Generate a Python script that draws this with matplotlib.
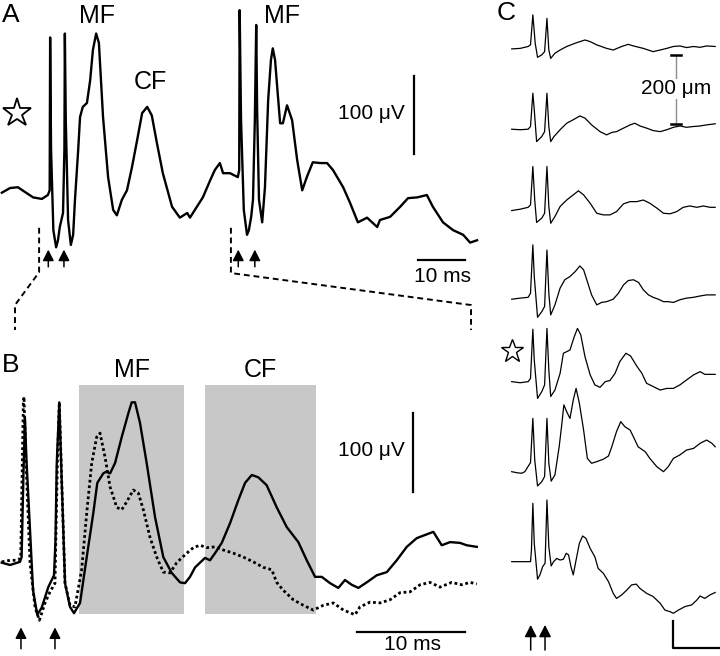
import matplotlib.pyplot as plt
from matplotlib.patches import Rectangle

plt.rcParams['font.family'] = ['Liberation Sans', 'DejaVu Sans']

# ---------------- panel A : one sweep, two stimulus pairs (ms, uV) ----------------
a_t = [0.4, 2.2, 3.9, 5.4, 7.2, 9.1, 10.4, 10.8, 10.9, 11.1,
       11.6, 12.2, 12.6, 13.0, 13.7, 14.0, 14.1, 14.3, 14.8, 15.4,
       15.9, 16.3, 17.0, 17.4, 18.0, 18.9, 19.6, 20.2, 20.9, 21.5,
       22.4, 23.5, 24.6, 25.4, 26.5, 27.6, 28.7, 29.8, 30.9, 32.0,
       33.0, 34.1, 35.4, 37.4, 39.1, 40.7, 41.3, 42.8, 44.1, 45.7,
       46.7, 47.8, 48.5, 50.0, 51.7, 52.0, 52.1, 52.4, 53.0, 53.7,
       54.1, 54.6, 55.0, 55.4, 55.7, 55.9, 56.3, 57.0, 57.6, 58.3,
       58.9, 59.3, 59.8, 60.2, 60.9, 61.5, 62.4, 63.5, 64.6, 65.7,
       66.7, 68.0, 69.6, 71.1, 72.4, 74.6, 76.1, 77.8, 79.8, 82.0,
       82.6, 84.8, 87.0, 88.7, 90.7, 92.8, 94.1, 96.3, 98.5, 100.7,
       102.2, 103.7]
a_v = [3, 9, 10, 4, -3, -5, 0, 6, 202, 58,
       -45, -67, -58, -41, -23, 58, 207, 96, -32, -64,
       -51, -6, 58, 100, 113, 118, 147, 186, 207, 195,
       100, 23, -19, -26, -6, 6, 36, 70, 105, 113,
       102, 67, 28, -15, -29, -23, -29, -15, -3, 19,
       32, 41, 28, 28, 23, 32, 237, 96, -19, -51,
       -45, -28, -6, 96, 218, 109, -6, -35, 10, 122,
       173, 188, 173, 143, 92, 92, 115, 96, 45, 6,
       23, 42, 41, 41, 32, 10, -10, -35, -29, -41,
       -32, -28, -15, -4, -3, 0, -15, -35, -45, -51,
       -61, -58]
a_stim = [10.5, 13.9, 51.8, 55.4]
a_zoom = [8.5, 50.2]          # stretch of A shown enlarged in B

# ---------------- panel B : control (solid) vs dotted ----------------
b_t = [0.16, 0.93, 1.85, 2.0, 2.18, 2.31, 2.45, 2.78, 3.06, 3.45,
       3.86, 4.47, 5.0, 5.14, 5.25, 5.49, 5.71, 6.02, 6.48, 6.85,
       7.41, 8.03, 8.64, 9.01, 9.56, 9.81, 10.19, 10.65, 11.27, 11.88,
       12.19, 12.5, 12.96, 13.58, 14.35, 15.12, 15.9, 16.67, 17.13, 17.59,
       18.06, 18.52, 18.98, 19.44, 19.91, 20.53, 21.3, 22.06, 22.69, 23.31,
       23.92, 24.69, 25.62, 26.55, 27.62, 28.4, 29.17, 29.79, 30.56, 31.32,
       31.94, 32.56, 33.18, 33.95, 34.88, 35.81, 36.73, 37.66, 38.58, 39.35,
       40.12, 40.9, 41.67, 42.59, 43.21, 44.14]
b_v = [3, 0, 4, 10, 120, 186, 133, 44, -32, -63,
       -54, -28, -13, 32, 127, 206, 108, -23, -53, -61,
       -48, 10, 66, 104, 116, 118, 116, 129, 162, 192,
       206, 206, 180, 129, 61, 10, -10, -22, -23, -15,
       -3, 3, 9, 6, 15, 28, 53, 82, 104, 114,
       111, 101, 73, 48, 29, 6, -15, -15, -23, -29,
       -19, -25, -29, -22, -13, -9, 6, 23, 34, 38,
       42, 25, 29, 28, 25, 23]
d_t = [0.16, 0.93, 1.69, 1.92, 2.16, 2.22, 2.41, 2.78, 3.24, 3.64,
       4.17, 4.63, 5.09, 5.31, 5.49, 5.71, 6.02, 6.48, 6.94, 7.56,
       8.03, 8.49, 8.95, 9.26, 9.72, 10.19, 10.81, 11.27, 11.73, 12.34,
       12.81, 13.27, 13.89, 14.51, 15.12, 15.74, 16.36, 17.29, 17.9, 18.52,
       19.14, 19.91, 20.68, 21.6, 22.53, 23.45, 24.38, 25.16, 25.62, 26.23,
       27.16, 28.08, 29.01, 29.94, 30.86, 31.79, 32.87, 33.33, 34.26, 35.19,
       36.11, 37.04, 37.96, 38.89, 39.81, 40.74, 41.82, 42.75, 43.52, 44.14]
d_v = [4, 6, 6, 10, 205, 213, 129, 3, -53, -70,
       -48, -34, -23, 129, 206, 108, -23, -51, -53, -6,
       66, 129, 162, 167, 137, 99, 73, 70, 80, 95,
       91, 70, 35, 10, -9, -10, 3, 15, 22, 25,
       22, 23, 19, 15, 10, 4, -3, -6, -22, -32,
       -44, -51, -57, -51, -48, -57, -63, -53, -47, -48,
       -44, -35, -34, -25, -22, -28, -22, -25, -22, -24]
b_stim = [1.94, 5.09]
mf_win = [7.31, 17.04]
cf_win = [18.98, 29.26]
win_v = [-62, 228]

# ---------------- panel C : depth profile ----------------
c1_t = [0, 1.8, 3.5, 4.0, 4.5, 5.0, 5.5, 6.4, 7.0, 7.5, 7.9, 8.3, 9.2, 10.3, 11.7, 13.8, 15.6, 16.7,
        18.1, 20.2, 21.6, 23.4, 24.8, 25.9, 28.0, 30.1, 31.6, 33.0, 34.4, 35.8, 37.2, 38.7, 40.1, 41.5, 43.3]
c1_v = [0, 2, 9, 15, 126, 21, -31, -22, -10, 113, -4, -35, -16, -4, 9, 23, 33, 27,
        15, 2, -4, 9, 17, 11, 2, -10, -4, 2, 9, 11, 5, 9, 6, 11, 9]
c2_t = [0, 1.8, 3.5, 4.0, 4.5, 4.8, 5.3, 6.4, 7.0, 7.5, 7.9, 8.3, 9.0, 10.3, 11.7, 13.1, 14.5, 15.6, 17.0,
        18.8, 20.2, 21.3, 22.3, 23.8, 25.2, 26.2, 27.3, 28.7, 30.1, 31.6, 33.0, 34.4, 35.8, 37.2, 38.7, 40.1, 41.5, 43.3]
c2_v = [0, -2, 0, 10, 133, 72, -46, -27, -9, 133, 10, -46, -27, -2, 22, 35, 49, 41, 16,
        -9, -21, -12, -9, 4, 16, 22, 12, 4, -5, -9, -2, 7, 12, 7, 10, 12, 16, 20]
c3_t = [0, 1.8, 3.5, 4.0, 4.5, 4.9, 5.3, 6.4, 7.0, 7.5, 7.9, 8.3, 9.2, 10.3, 11.7, 13.1, 14.2, 15.3, 16.7,
        18.1, 19.5, 20.9, 22.3, 23.8, 25.2, 26.6, 28.0, 29.4, 30.9, 32.3, 33.7, 35.1, 36.5, 37.9, 39.4, 40.8, 42.2, 43.3]
c3_v = [0, 5, 12, 21, 163, 39, -44, -28, -10, 163, 15, -47, -22, 15, 39, 58, 73, 58, 27,
        -10, -16, -16, -4, 25, 33, 33, 39, 27, 9, -10, -12, -4, 12, 17, 12, 17, 12, 12]
c4_t = [0, 1.8, 3.5, 4.0, 4.5, 4.8, 5.5, 6.4, 7.0, 7.5, 7.9, 8.3, 9.2, 10.3, 11.3, 12.4, 13.5, 14.5, 15.3, 16.1,
        17.0, 18.1, 19.1, 20.2, 21.6, 22.7, 23.8, 24.8, 25.9, 27.0, 28.0, 29.1, 30.1, 31.2, 32.3, 33.3, 34.4, 35.8,
        37.2, 38.7, 40.1, 41.5, 43.3]
c4_v = [0, 4, 7, 22, 201, 84, -67, -46, -27, 182, 22, -58, -21, 41, 72, 84, 102, 123, 109, 65,
        16, -21, -12, -9, 0, 22, 53, 69, 72, 62, 35, 16, 7, 0, -9, -9, -12, -2,
        4, 7, 12, 16, 16]
c5_t = [0, 1.8, 3.5, 4.0, 4.5, 4.8, 5.5, 6.4, 7.0, 7.5, 7.9, 8.3, 9.2, 10.3, 11.0, 11.7, 12.4, 13.3, 14.0, 14.7,
        15.6, 16.7, 17.7, 18.8, 19.9, 20.9, 22.0, 23.0, 24.3, 25.3, 26.6, 27.7, 28.7, 30.1, 31.6, 33.0, 34.4, 35.8,
        37.2, 38.7, 40.1, 41.1, 42.2, 43.3]
c5_v = [0, -4, 0, 12, 194, 80, -62, -37, -12, 197, 43, -55, -31, 31, 105, 111, 117, 166, 197, 173,
        92, 25, -12, -21, 0, 4, 31, 74, 105, 95, 58, 31, -6, -18, -31, -25, -25, -12,
        6, 25, 37, 27, 27, 27]
c6_t = [0, 1.1, 2.1, 2.8, 3.8, 4.0, 4.5, 4.9, 5.5, 6.4, 7.0, 7.5, 7.9, 8.4, 9.2, 10.1, 10.6, 11.1, 11.7, 12.4,
        13.1, 13.7, 14.4, 15.3, 16.1, 17.0, 18.1, 19.5, 20.6, 21.3, 22.3, 23.2, 24.1, 25.2, 25.9, 26.9, 28.4, 29.4,
        30.9, 32.3, 33.3, 34.4, 35.8, 37.2, 38.7, 40.1, 41.5, 42.6, 43.3]
c6_v = [0, -4, -6, 0, 28, 33, 197, 43, -53, -37, -18, 197, 31, -35, -12, 92, 166, 247, 222, 197,
        265, 308, 253, 154, 49, 31, 37, 46, 58, 92, 148, 185, 166, 154, 129, 92, 74, 49,
        18, 0, 18, 49, 62, 80, 86, 105, 117, 105, 92]
c7_t = [0, 1.8, 4.0, 4.2, 4.5, 4.8, 5.5, 6.0, 6.6, 7.1, 7.5, 7.9, 8.4, 8.9, 9.6, 10.3, 11.0, 11.6, 12.1, 12.6,
        13.1, 13.7, 14.4, 15.1, 15.8, 16.7, 17.7, 18.4, 19.5, 20.6, 21.6, 22.3, 23.4, 24.5, 25.5, 26.5, 27.3, 28.7,
        30.1, 31.6, 32.6, 33.7, 34.4, 35.5, 36.9, 38.3, 39.4, 40.1, 41.1, 42.2, 43.3]
c7_v = [0, 0, 0, 43, 216, 68, -65, -49, -18, -6, 228, 55, -16, 0, 12, 6, 9, 31, 25, -18,
        -49, 6, 68, 95, 86, 49, 18, -25, -43, -74, -117, -136, -123, -105, -86, -83, -99, -117,
        -129, -154, -179, -185, -191, -179, -166, -160, -142, -127, -136, -123, -114]
c_offset = [0, -297, -598, -926, -1231, -1564, -1897]   # vertical stacking by depth
c_star = 4
c_stim = [4.04, 7.09]

fig = plt.figure(figsize=(7.2, 6.56), dpi=100)
axA = fig.add_axes([0, 1 - 330 / 656, 480 / 720, 330 / 656])
axB = fig.add_axes([0, 0, 480 / 720, 316 / 656])
axC = fig.add_axes([490 / 720, 0, 230 / 720, 1])
for ax in (axA, axB, axC):
    ax.axis('off')
axA.set_xlim(0, 104.35); axA.set_ylim(-173, 250)
axB.set_xlim(0, 44.44); axB.set_ylim(-115.2, 284.9)
axC.set_xlim(-4.62, 44.33); axC.set_ylim(-2246, 181)


def up_arrow(ax, x, y0, y1, ms=12):
    ax.annotate("", xy=(x, y1), xytext=(x, y0), annotation_clip=False,
                arrowprops=dict(arrowstyle="-|>,head_length=0.55,head_width=0.28",
                                color="k", lw=1.1, shrinkA=0, shrinkB=0, mutation_scale=ms))


# A
axA.plot(a_t, a_v, color='k', lw=1.7, solid_joinstyle='round')
axA.plot(3.6, 105, marker='*', ms=21, mfc='white', mec='k', mew=1.3)
axA.text(21.1, 229, "MF", ha='center', va='center', fontsize=18)
axA.text(32.6, 145, "CF", ha='center', va='center', fontsize=18)
axA.text(61.3, 229, "MF", ha='center', va='center', fontsize=18)
axA.plot([89.9, 89.9], [52.6, 152.6], color='k', lw=1.6)
axA.text(88.0, 105, "100 μV", ha='right', va='center', fontsize=15)
axA.plot([90.9, 101.1], [-83, -83], color='k', lw=1.6)
axA.text(96.2, -105, "10 ms", ha='center', va='center', fontsize=15)
for s in a_stim:
    up_arrow(axA, s, -92, -70)
axA.plot([a_zoom[0], a_zoom[0], 3.26, 3.26], [-42, -99, -141, -173], color='k', lw=1.4,
         ls=(0, (3, 2)), clip_on=False)
axA.plot([a_zoom[1], a_zoom[1], 102.4, 102.4], [-42, -100, -141, -173], color='k', lw=1.4,
         ls=(0, (3, 2)), clip_on=False)

# B
for w in (mf_win, cf_win):
    axB.add_patch(Rectangle((w[0], win_v[0]), w[1] - w[0], win_v[1] - win_v[0],
                            fc='#c8c8c8', ec='none', zorder=0))
axB.plot(d_t, d_v, color='k', lw=2.0, ls=(0, (1, 1)))
axB.plot(b_t, b_v, color='k', lw=1.7, solid_joinstyle='round')
axB.text(12.19, 247, "MF", ha='center', va='center', fontsize=18)
axB.text(24.07, 247, "CF", ha='center', va='center', fontsize=18)
axB.plot([38.27, 38.27], [93, 192], color='k', lw=1.6)
axB.text(37.5, 145.6, "100 μV", ha='right', va='center', fontsize=15)
axB.plot([33.06, 43.06], [-84.4, -84.4], color='k', lw=1.6)
axB.text(38.2, -113, "10 ms", ha='center', va='bottom', fontsize=15)
for s in b_stim:
    up_arrow(axB, s, -106, -79)

# C
c_t = [c1_t, c2_t, c3_t, c4_t, c5_t, c6_t, c7_t]
c_v = [c1_v, c2_v, c3_v, c4_v, c5_v, c6_v, c7_v]
for t, v, off in zip(c_t, c_v, c_offset):
    axC.plot(t, [x + off for x in v], color='k', lw=0.9)
axC.plot(0.13, c_offset[c_star] + 115, marker='*', ms=17, mfc='white', mec='k', mew=1.0)
for s in c_stim:
    up_arrow(axC, s, -2224, -2131, ms=13)
axC.plot([34.4, 34.4, 44.4], [-2116, -2217, -2217], color='k', lw=1.6, clip_on=False)
axC.plot([34.9, 34.9], [-22, -279], color='#8c8c8c', lw=1.0)
axC.plot([33.8, 36.0], [-22, -22], color='k', lw=1.8)
axC.plot([33.8, 36.0], [-279, -279], color='k', lw=1.8)
axC.text(35.0, -148, "200 μm", ha='center', va='center', fontsize=15,
         bbox=dict(fc='white', ec='none', pad=0.3))

fig.text(2 / 720, 1 - 22 / 656, "A", fontsize=19)
fig.text(2 / 720, 1 - 372 / 656, "B", fontsize=19)
fig.text(497 / 720, 1 - 20 / 656, "C", fontsize=19)

fig.savefig("out.png", dpi=100)
